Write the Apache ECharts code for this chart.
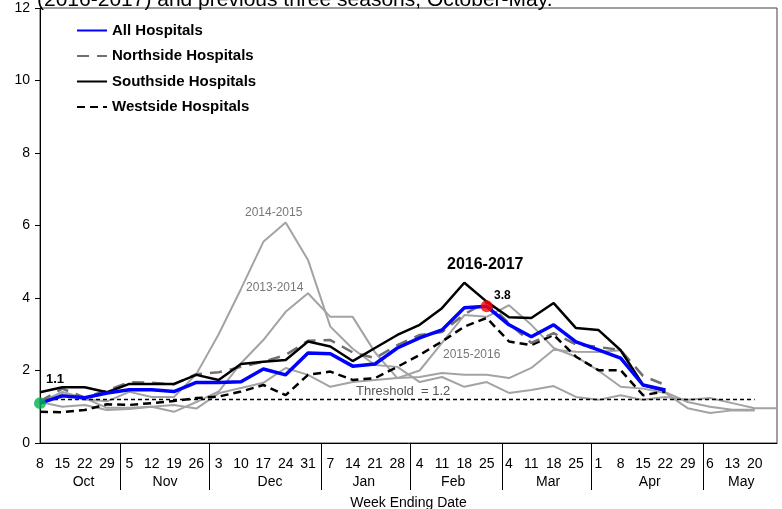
<!DOCTYPE html>
<html>
<head>
<meta charset="utf-8">
<script src="https://cdn.jsdelivr.net/npm/echarts@6.0.0/dist/echarts.min.js"></script>
<style>
  html, body { margin: 0; padding: 0; background: #fff; }
  #chart { width: 782px; height: 509px; }
</style>
</head>
<body>
<div id="chart"></div>
<script>
// week ending day numbers, Oct 8 -> May 27 (last one is not labelled)
var weeks = ['8','15','22','29','5','12','19','26','3','10','17','24','31','7','14','21','28',
  '4','11','18','25','4','11','18','25','1','8','15','22','29','6','13','20',''];
var months = ['Oct','Nov','Dec','Jan','Feb','Mar','Apr','May'];
var monthCenters = [1.95, 5.6, 10.3, 14.5, 18.5, 22.75, 27.3, 31.4];
var monthBreaks = [3.6, 7.6, 12.6, 16.6, 20.7, 24.7, 29.7];

// 2016-2017 season
var allHosp = [1.1,1.3,1.25,1.38,1.47,1.47,1.42,1.67,1.67,1.69,2.04,1.88,2.48,2.46,2.12,2.18,2.62,2.9,3.12,3.73,3.77,3.26,2.93,3.26,2.79,2.57,2.34,1.6,1.46];
var northside = [1.15,1.5,1.25,1.45,1.68,1.66,1.62,1.9,1.95,2.1,2.24,2.43,2.82,2.84,2.5,2.34,2.7,2.98,3.06,3.55,3.9,3.3,2.76,3.03,2.72,2.65,2.56,1.85,1.6];
var southside = [1.4,1.54,1.54,1.4,1.63,1.63,1.63,1.88,1.74,2.18,2.24,2.29,2.8,2.66,2.26,2.62,2.98,3.26,3.72,4.42,3.9,3.47,3.45,3.86,3.17,3.12,2.56,1.6,1.45];
var westside = [0.86,0.85,0.91,1.07,1.05,1.1,1.16,1.24,1.28,1.42,1.6,1.32,1.88,1.97,1.74,1.79,2.1,2.43,2.8,3.21,3.45,2.8,2.7,2.98,2.38,2.01,2.01,1.32,1.42];

// previous seasons (all hospitals)
var s2013 = [1.13,1.41,1.24,0.97,0.97,1.0,0.86,1.13,1.42,2.2,2.84,3.62,4.13,3.48,3.48,2.5,1.79,1.82,1.93,1.88,1.88,1.79,2.07,2.57,2.52,2.51,2.56,1.6,1.4,1.13,1.0,0.92,0.92];
var s2014 = [1.13,1.35,1.2,1.15,1.41,1.27,1.27,1.9,3.0,4.25,5.55,6.08,5.05,3.21,2.6,2.15,2.1,1.68,1.82,1.55,1.68,1.38,1.46,1.57,1.27,1.19,1.32,1.19,1.27,1.19,1.24,1.1,0.96,0.96];
var s2015 = [1.13,1.0,1.05,0.91,0.94,1.0,1.05,0.95,1.37,1.52,1.66,2.07,1.88,1.55,1.68,1.74,1.79,2.0,2.76,3.53,3.48,3.8,3.26,2.62,2.38,2.0,1.55,1.5,1.38,0.96,0.83,0.9,0.9];

var threshold = 1.2;
var thresholdLine = weeks.map(function (w, i) { return i < 33 ? threshold : null; });

var yMin = 0, yMax = 12, yStep = 2;

var font = 'Liberation Sans, Arial, sans-serif';
var grayLine = '#a3a3a3';

function season(name, data) {
  return {
    name: name, type: 'line', data: data, symbol: 'none', z: 1,
    lineStyle: { color: grayLine, width: 2 }, silent: true
  };
}

var chart = echarts.init(document.getElementById('chart'));
chart.setOption({
  animation: false,
  textStyle: { fontFamily: font },
  grid: {
    left: 40, right: 5, top: 8, bottom: 66,
    outerBoundsMode: 'none', containLabel: false,
    show: true, borderColor: '#404040', borderWidth: 1
  },
  legend: {
    data: ['All Hospitals', 'Northside Hospitals', 'Southside Hospitals', 'Westside Hospitals'],
    orient: 'vertical', left: 71, top: 18,
    itemWidth: 30, itemHeight: 14, itemGap: 10.5,
    itemStyle: { opacity: 0 },
    textStyle: { fontFamily: font, fontSize: 15, fontWeight: 'bold', color: '#000' }
  },
  xAxis: [{
    type: 'category', data: weeks, boundaryGap: false,
    axisLine: { lineStyle: { color: '#000', width: 1 } },
    axisTick: { show: false },
    axisLabel: { interval: 0, color: '#000', fontSize: 14, margin: 14 },
    name: 'Week Ending Date', nameLocation: 'middle', nameGap: 53,
    nameTextStyle: { fontSize: 14, color: '#000' }
  }, {
    type: 'value', min: 0, max: 33, position: 'bottom',
    axisLine: { show: false },
    splitLine: { show: false },
    axisTick: { show: true, customValues: monthBreaks, length: 47, lineStyle: { color: '#000' } },
    axisLabel: {
      customValues: monthCenters, color: '#000', fontSize: 14, margin: 32,
      formatter: function (v) { return months[monthCenters.indexOf(v)] || ''; }
    }
  }],
  yAxis: {
    type: 'value', min: yMin, max: yMax, interval: yStep,
    axisLine: { show: true, lineStyle: { color: '#000' } },
    axisTick: { show: true, length: 5, lineStyle: { color: '#000' } },
    splitLine: { show: false },
    axisLabel: { color: '#000', fontSize: 14, margin: 10 }
  },
  series: [
    season('2013-2014', s2013),
    season('2014-2015', s2014),
    season('2015-2016', s2015),
    {
      name: 'Threshold', type: 'line', data: thresholdLine, symbol: 'none', z: 2,
      lineStyle: { color: '#000', width: 1.5, type: [4, 3] }
    },
    {
      name: 'Westside Hospitals', type: 'line', data: westside, symbol: 'none', z: 3,
      itemStyle: { color: '#000' },
      lineStyle: { color: '#000', width: 2.5, type: [8, 5] }
    },
    {
      name: 'Northside Hospitals', type: 'line', data: northside, symbol: 'none', z: 3,
      itemStyle: { color: '#707070' },
      lineStyle: { color: '#707070', width: 2.5, type: [12, 8] }
    },
    {
      name: 'Southside Hospitals', type: 'line', data: southside, symbol: 'none', z: 4,
      itemStyle: { color: '#000' },
      lineStyle: { color: '#000', width: 2.5 }
    },
    {
      name: 'All Hospitals', type: 'line', data: allHosp, symbol: 'none', z: 5,
      itemStyle: { color: '#0000ff' },
      lineStyle: { color: '#0000ff', width: 3.5 }
    },
    {
      name: 'marks', type: 'scatter', z: 6, symbolSize: 12,
      data: [
        { value: [0, allHosp[0]], itemStyle: { color: '#00b050' } },
        { value: [20, allHosp[20]], itemStyle: { color: '#ff0000' } }
      ]
    }
  ],
  graphic: [
    { type: 'text', left: 37, top: -10, style: { text: '(2016-2017) and previous three seasons, October-May.', font: '21px ' + font, fill: '#000' } },
    { type: 'text', left: 46, top: 373, style: { text: '1.1', font: 'bold 13px ' + font, fill: '#000' } },
    { type: 'text', left: 494, top: 290, style: { text: '3.8', font: 'bold 12px ' + font, fill: '#000' } },
    { type: 'text', left: 447, top: 257, style: { text: '2016-2017', font: 'bold 16px ' + font, fill: '#000' } },
    { type: 'text', left: 245, top: 207, style: { text: '2014-2015', font: '12px ' + font, fill: '#777' } },
    { type: 'text', left: 246, top: 282, style: { text: '2013-2014', font: '12px ' + font, fill: '#777' } },
    { type: 'text', left: 443, top: 349, style: { text: '2015-2016', font: '12px ' + font, fill: '#777' } },
    { type: 'text', left: 356, top: 385, style: { text: 'Threshold  = 1.2', font: '13px ' + font, fill: '#555' } }
  ]
});
</script>
</body>
</html>
